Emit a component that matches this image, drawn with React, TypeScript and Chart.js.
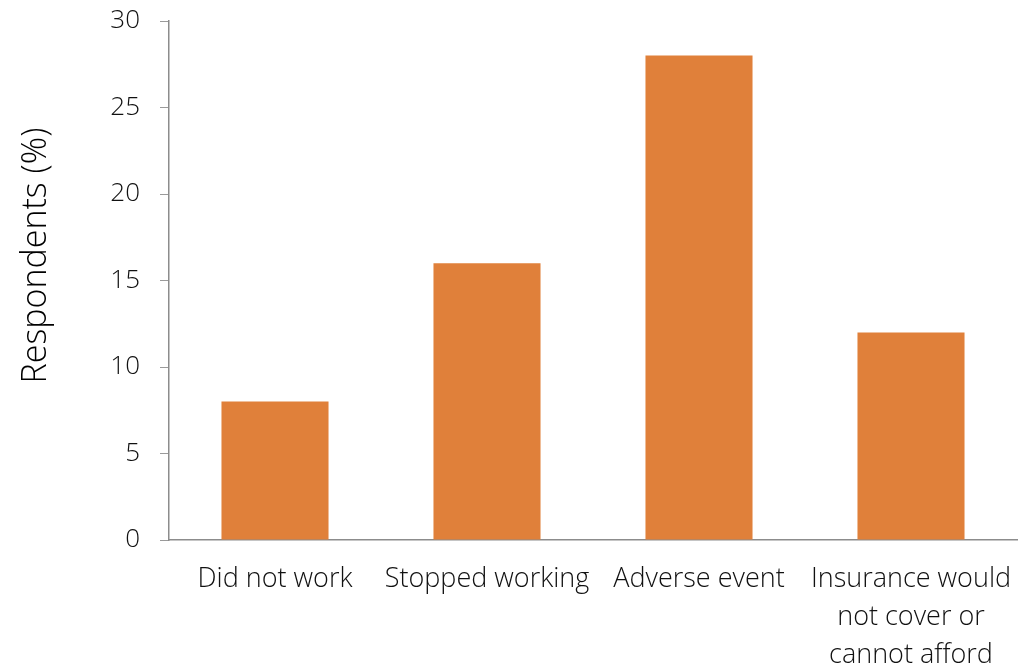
import React, { useEffect, useRef } from "react";
import { Chart, registerables } from "chart.js";

Chart.register(...registerables);

const categories: (string | string[])[] = [
  "Did not work",
  "Stopped working",
  "Adverse event",
  ["Insurance would", "not cover or", "cannot afford"],
];
const respondents: number[] = [8, 16, 28, 12];
const yTitle = "Respondents (%)";
const yMin = 0;
const yMax = 30;
const yStep = 5;

const FONT = "'Open Sans', 'Liberation Sans', sans-serif";

const yTitlePlugin = {
  id: "yTitlePlugin",
  afterDraw(chart: any) {
    const { ctx, chartArea } = chart;
    ctx.save();
    ctx.translate(36, (chartArea.top + chartArea.bottom) / 2 - 25);
    ctx.rotate(-Math.PI / 2);
    ctx.font = `300 34px ${FONT}`;
    ctx.fillStyle = "#000";
    ctx.textAlign = "center";
    ctx.textBaseline = "middle";
    ctx.fillText(yTitle, 0, 0);
    ctx.restore();
  },
};

export default function App() {
  const ref = useRef<HTMLCanvasElement | null>(null);
  useEffect(() => {
    if (!ref.current) return;
    const chart = new Chart(ref.current, {
      type: "bar",
      data: {
        labels: categories,
        datasets: [
          {
            data: respondents,
            backgroundColor: "#E0803A",
            borderWidth: 0,
            categoryPercentage: 1,
            barPercentage: 0.505,
          },
        ],
      },
      plugins: [yTitlePlugin],
      options: {
        animation: false,
        responsive: false,
        maintainAspectRatio: false,
        layout: { padding: { top: 21, right: 15, left: 0, bottom: 0 } },
        plugins: { legend: { display: false }, tooltip: { enabled: false } },
        scales: {
          x: {
            grid: { display: false, drawTicks: false },
            border: { display: true, color: "#8c8c8c", width: 1.5 },
            ticks: {
              color: "#111",
              font: { family: FONT, size: 27, weight: 300, lineHeight: 1.41 },
              padding: 20,
              maxRotation: 0,
              autoSkip: false,
            },
            afterFit: (s: any) => {
              s.height = 127;
              s.paddingLeft = 0;
              s.paddingRight = 0;
            },
          },
          y: {
            min: yMin,
            max: yMax,
            grid: {
              display: true,
              drawOnChartArea: false,
              drawTicks: true,
              tickLength: 9,
              color: "#9a9a9a",
            },
            border: { display: true, color: "#8c8c8c", width: 1.5 },
            ticks: {
              stepSize: yStep,
              color: "#111",
              font: { family: FONT, size: 26, weight: 300 },
              padding: 20,
            },
            title: { display: false },
            afterFit: (s: any) => {
              s.width = 169;
              s.paddingTop = 0;
              s.paddingBottom = 0;
            },
          },
        },
      },
    });
    return () => chart.destroy();
  }, []);
  return (
    <div style={{ position: "fixed", left: 0, top: 0, width: 1032, height: 667, background: "#fff" }}>
      <canvas ref={ref} width={1032} height={667} style={{ width: 1032, height: 667 }} />
    </div>
  );
}
